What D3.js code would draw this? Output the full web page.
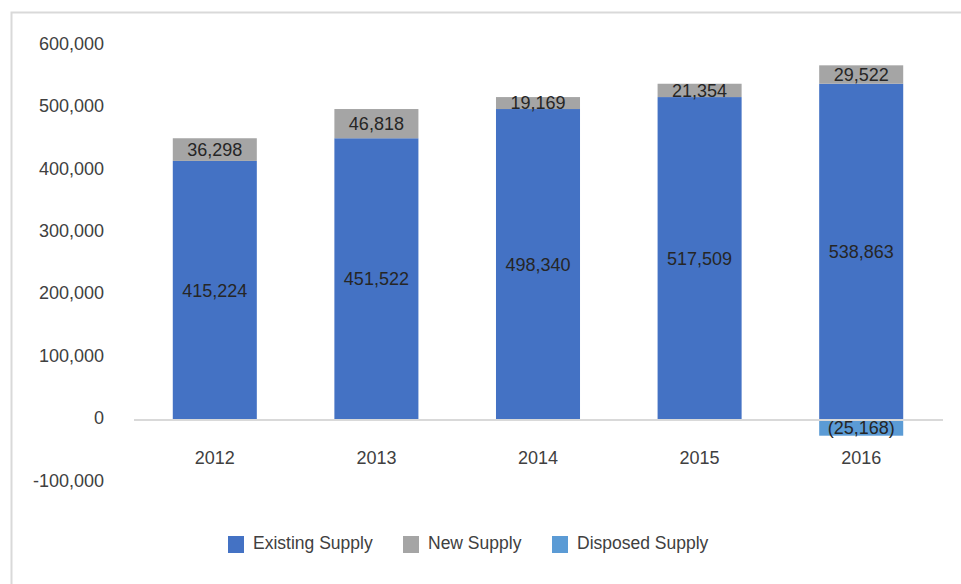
<!DOCTYPE html>
<html>
<head>
<meta charset="utf-8">
<script src="https://cdn.jsdelivr.net/npm/d3@7"></script>
<style>
  body { margin: 0; background: #fff; }
  svg text { font-family: "Liberation Sans", Arial, sans-serif; }
</style>
</head>
<body>
<div id="chart"></div>
<script>
//! DATA
const years = ['2012', '2013', '2014', '2015', '2016'];
const existingSupply = [415224, 451522, 498340, 517509, 538863];
const newSupply = [36298, 46818, 19169, 21354, 29522];
const disposedSupply = [0, 0, 0, 0, -25168];
const yTicks = [-100000, 0, 100000, 200000, 300000, 400000, 500000, 600000];

const seriesNames = ['Existing Supply', 'New Supply', 'Disposed Supply'];
const colors = ['#4472c4', '#a5a5a5', '#5b9bd5'];

//! CONSTS
const width = 961;
const height = 584;

const rows = years.map((y, i) => ({
  year: y,
  'Existing Supply': existingSupply[i],
  'New Supply': newSupply[i],
  'Disposed Supply': disposedSupply[i]
}));

const svg = d3.select('#chart')
  .append('svg')
  .attr('width', width)
  .attr('height', height);

// chart border
svg.append('rect')
  .attr('x', 11.5)
  .attr('y', 12.5)
  .attr('width', 1000)
  .attr('height', 1000)
  .attr('fill', 'none')
  .attr('stroke', '#d9d9d9')
  .attr('stroke-width', 2);

//! SCALES
const xScale = d3.scaleBand()
  .domain(years)
  .range([134, 942])
  .paddingInner(0.48)
  .paddingOuter(0.24);

const yScale = d3.scaleLinear()
  .domain([-100000, 600000])
  .range([482.4, 45.6]);

const fmt = d3.format(',');
const label = v => v < 0 ? `(${fmt(-v)})` : fmt(v);

//! Y AXIS (labels only)
const yAxis = d3.axisLeft(yScale)
  .tickValues(yTicks)
  .tickFormat(d => fmt(d).replace('\u2212', '-'))
  .tickSize(0)
  .tickPadding(0);

svg.append('g')
  .attr('transform', 'translate(104,-2)')
  .call(yAxis)
  .call(g => g.select('.domain').remove())
  .call(g => g.selectAll('text')
    .attr('fill', '#404040')
    .style('font-size', '18px'));

//! BARS
const stack = d3.stack()
  .keys(seriesNames)
  .offset(d3.stackOffsetDiverging);

const stacked = stack(rows);

const layers = svg.selectAll('.layer')
  .data(stacked)
  .enter()
  .append('g')
  .attr('class', 'layer')
  .attr('fill', (d, i) => colors[i]);

layers.selectAll('rect')
  .data(d => d.filter(p => p[1] !== p[0]))
  .enter()
  .append('rect')
  .attr('x', d => xScale(d.data.year))
  .attr('width', xScale.bandwidth())
  .attr('y', d => yScale(Math.max(d[0], d[1])))
  .attr('height', d => Math.abs(yScale(d[0]) - yScale(d[1])));

//! ZERO LINE
svg.append('line')
  .attr('x1', 134)
  .attr('x2', 943)
  .attr('y1', yScale(0))
  .attr('y2', yScale(0))
  .attr('stroke', '#d9d9d9')
  .attr('stroke-width', 2);

//! DATA LABELS
layers.selectAll('text')
  .data(d => d.filter(p => p[1] !== p[0]).map(p => ({ p, key: d.key })))
  .enter()
  .append('text')
  .attr('x', d => xScale(d.p.data.year) + xScale.bandwidth() / 2)
  .attr('y', d => (yScale(d.p[0]) + yScale(d.p[1])) / 2)
  .attr('dy', '0.35em')
  .attr('text-anchor', 'middle')
  .attr('fill', '#262626')
  .style('font-size', '18px')
  .text(d => label(d.p.data[d.key]));

//! X AXIS (labels only)
const xAxis = d3.axisBottom(xScale)
  .tickSize(0)
  .tickPadding(0);

svg.append('g')
  .attr('transform', 'translate(0,451)')
  .call(xAxis)
  .call(g => g.select('.domain').remove())
  .call(g => g.selectAll('text')
    .attr('fill', '#404040')
    .style('font-size', '18px'));

//! LEGEND
const legendX = [228, 403, 552];
const legend = svg.selectAll('.legend')
  .data(seriesNames)
  .enter()
  .append('g')
  .attr('class', 'legend')
  .attr('transform', (d, i) => `translate(${legendX[i]},536)`);

legend.append('rect')
  .attr('width', 16)
  .attr('height', 17)
  .attr('fill', (d, i) => colors[i]);

legend.append('text')
  .attr('x', 25)
  .attr('y', 7)
  .attr('dy', '0.35em')
  .attr('fill', '#404040')
  .style('font-size', '17.5px')
  .text(d => d);
</script>
</body>
</html>
